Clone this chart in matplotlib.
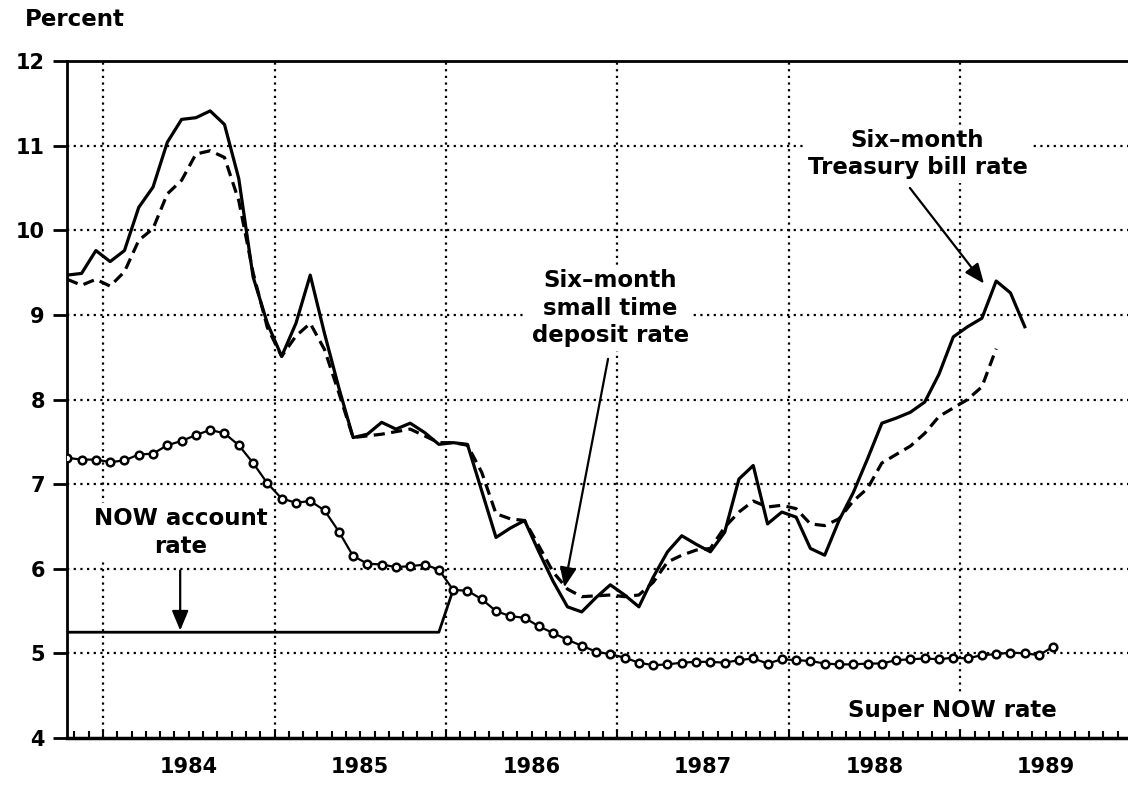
import numpy as np
import pandas as pd
import matplotlib
matplotlib.use('Agg')
import matplotlib.pyplot as plt

plt.rcParams['font.family'] = ['DejaVu Sans']

# monthly data, Oct 1983 onwards (plotted mid-month)
tbill = [9.47, 9.49, 9.76, 9.63, 9.76, 10.27, 10.51, 11.04, 11.31, 11.33,
         11.41, 11.25, 10.61, 9.45, 8.90, 8.51, 8.90, 9.47, 8.78, 8.14,
         7.55, 7.59, 7.73, 7.65, 7.72, 7.61, 7.47, 7.49, 7.47, 6.92,
         6.37, 6.48, 6.57, 6.20, 5.85, 5.55, 5.49, 5.66, 5.81, 5.69,
         5.55, 5.90, 6.20, 6.39, 6.29, 6.20, 6.43, 7.06, 7.22, 6.53,
         6.67, 6.61, 6.24, 6.16, 6.57, 6.90, 7.30, 7.72, 7.78, 7.85,
         7.97, 8.30, 8.74, 8.86, 8.96, 9.40, 9.26, 8.86]

deposit = [9.42, 9.35, 9.42, 9.34, 9.51, 9.88, 10.02, 10.43, 10.59, 10.90,
           10.94, 10.86, 10.35, 9.50, 8.85, 8.51, 8.75, 8.90, 8.59, 8.08,
           7.55, 7.57, 7.59, 7.62, 7.65, 7.57, 7.49, 7.49, 7.46, 7.14,
           6.65, 6.59, 6.57, 6.27, 5.96, 5.76, 5.67, 5.68, 5.69, 5.67,
           5.69, 5.84, 6.08, 6.16, 6.22, 6.24, 6.49, 6.67, 6.80, 6.73,
           6.75, 6.71, 6.53, 6.51, 6.59, 6.80, 6.95, 7.25, 7.35, 7.45,
           7.60, 7.80, 7.90, 8.00, 8.15, 8.60]

super_now = [7.31, 7.29, 7.29, 7.26, 7.28, 7.35, 7.36, 7.46, 7.51, 7.58,
             7.64, 7.60, 7.46, 7.25, 7.01, 6.83, 6.78, 6.80, 6.69, 6.44,
             6.15, 6.06, 6.05, 6.02, 6.03, 6.05, 5.99, 5.75, 5.74, 5.64,
             5.50, 5.44, 5.42, 5.32, 5.24, 5.16, 5.09, 5.02, 4.99, 4.95,
             4.89, 4.86, 4.87, 4.89, 4.90, 4.90, 4.89, 4.92, 4.94, 4.88,
             4.93, 4.92, 4.91, 4.88, 4.87, 4.87, 4.88, 4.88, 4.92, 4.93,
             4.94, 4.93, 4.95, 4.94, 4.98, 4.99, 5.01, 5.00, 4.98, 5.08]

now_rate = [5.25, 5.25, 5.25, 5.25, 5.25, 5.25, 5.25, 5.25, 5.25, 5.25,
            5.25, 5.25, 5.25, 5.25, 5.25, 5.25, 5.25, 5.25, 5.25, 5.25,
            5.25, 5.25, 5.25, 5.25, 5.25, 5.25, 5.25, 5.75]

years = [1984, 1985, 1986, 1987, 1988, 1989]

#decimal-year positions, mid month
months = pd.period_range('1983-10', periods=len(super_now), freq='M')
t = np.array(months.year + (months.month - 0.5) / 12)

fig = plt.figure(figsize=(11.28, 7.87), dpi=100)
ax = fig.add_axes([67/1128, 49/787, 1 - 67/1128, 677/787])

# dotted grid
dots = (0, (1, 2))
for v in range(5, 12):
    ax.axhline(v, color='k', lw=1.6, ls=dots, zorder=1)
for yr in years:
    ax.axvline(yr, color='k', lw=1.6, ls=dots, zorder=1)

ax.plot(t[:len(tbill)], tbill, color='k', lw=2.3, zorder=6)
ax.plot(t[:len(deposit)], deposit, color='k', lw=2.3, ls=(0, (3.5, 2)), zorder=6)
ax.plot(t[:len(now_rate)], now_rate, color='k', lw=2.0, zorder=6)
ax.plot(t, super_now, color='k', lw=1.6, marker='o', ms=5.5, mfc='white',
        mec='k', mew=1.8, zorder=7)

box = dict(facecolor='white', edgecolor='none', pad=3)
tkw = dict(fontsize=16.5, fontweight='bold', ha='center', va='center',
           bbox=box, zorder=4, linespacing=1.25)
ax.text(1984.455, 6.43, 'NOW account\nrate', **tkw)
ax.text(1986.957, 9.08, 'Six\u2013month\nsmall time\ndeposit rate', **tkw)
ax.text(1988.75, 10.9, 'Six\u2013month\nTreasury bill rate', **tkw)
ax.text(1988.95, 4.33, 'Super NOW rate', **tkw)

arrow = dict(arrowstyle='-|>,head_length=0.6,head_width=0.25', color='k',
             lw=1.6, mutation_scale=20, shrinkA=0, shrinkB=0)
ax.annotate('', xy=(1984.45, 5.27), xytext=(1984.45, 5.98), arrowprops=arrow, zorder=8)
ax.annotate('', xy=(1986.69, 5.78), xytext=(1986.945, 8.48), arrowprops=arrow, zorder=8)
ax.annotate('', xy=(1989.137, 9.37), xytext=(1988.705, 10.5), arrowprops=arrow, zorder=8)

ax.set_xlim(1983.79, 1989.977)
ax.set_ylim(4, 12)

# year labels mid-year, monthly ticks inside
ax.set_xticks([y + 0.5 for y in years])
ax.set_xticklabels([str(y) for y in years], fontsize=15, fontweight='bold')
month_ticks = pd.period_range('1983-11', '1989-12', freq='M')
ax.set_xticks(month_ticks.year + (month_ticks.month - 1) / 12, minor=True)
ax.xaxis.remove_overlapping_locs = False
ax.tick_params(axis='x', which='major', length=0, pad=14)
ax.tick_params(axis='x', which='minor', direction='in', length=5, width=1.5)

ax.set_yticks(range(4, 13))
ax.set_yticklabels([str(v) for v in range(4, 13)], fontsize=15, fontweight='bold')
ax.tick_params(axis='y', direction='out', length=10, width=2, pad=6)

ax.spines['right'].set_visible(False)
ax.spines['left'].set_linewidth(2)
ax.spines['top'].set_linewidth(2)
ax.spines['bottom'].set_linewidth(2.5)

fig.text(25/1128, 1 - 20/787, 'Percent', fontsize=16.5, fontweight='bold',
         ha='left', va='center')

fig.savefig('out.png', dpi=100)
